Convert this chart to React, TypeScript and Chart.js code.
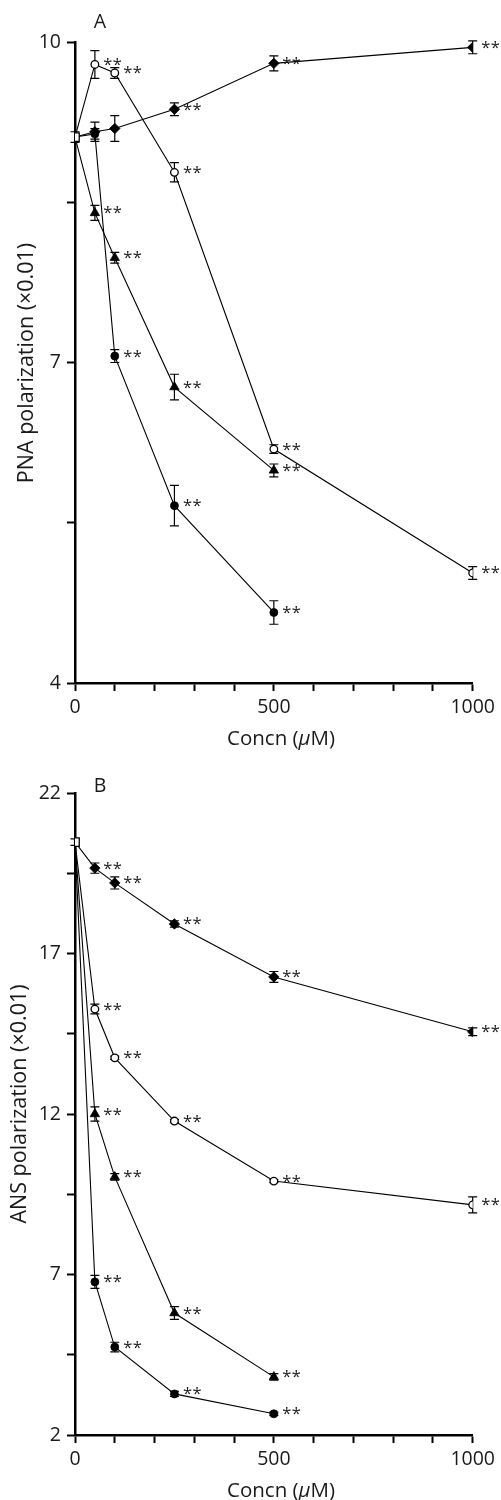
import React, { useEffect, useRef } from "react";
import { Chart, registerables } from "chart.js";

Chart.register(...registerables);

// ---------- data ----------
const CONC = [0, 50, 100, 250, 500, 1000];

// Panel A: PNA polarization (×0.01)
const A_CONTROL = 9.11;
const A_CONTROL_ERR = 0.05;
const A_OPEN_CIRCLE = [9.79, 9.71, 8.78, 6.19, 5.03];
const A_OPEN_CIRCLE_ERR = [0.13, 0.05, 0.09, 0.04, 0.06];
const A_OPEN_CIRCLE_SIG = [true, true, true, true, true];
const A_DIAMOND = [9.16, 9.19, 9.37, 9.8, 9.95];
const A_DIAMOND_ERR = [0.09, 0.12, 0.06, 0.07, 0.06];
const A_DIAMOND_SIG = [false, false, true, true, true];
const A_TRIANGLE = [8.4, 7.98, 6.77, 5.99];
const A_TRIANGLE_ERR = [0.07, 0.05, 0.12, 0.06];
const A_TRIANGLE_SIG = [true, true, true, true];
const A_CIRCLE = [9.14, 7.06, 5.66, 4.66];
const A_CIRCLE_ERR = [0.05, 0.06, 0.19, 0.11];
const A_CIRCLE_SIG = [false, true, true, true];
const A_Y_TICKS = [4, 7, 10];

// Panel B: ANS polarization (×0.01)
const B_CONTROL = 20.47;
const B_CONTROL_ERR = 0.1;
const B_DIAMOND = [19.66, 19.2, 17.92, 16.27, 14.56];
const B_DIAMOND_ERR = [0.16, 0.19, 0.1, 0.17, 0.12];
const B_DIAMOND_SIG = [true, true, true, true, true];
const B_OPEN_CIRCLE = [15.27, 13.75, 11.78, 9.91, 9.17];
const B_OPEN_CIRCLE_ERR = [0.15, 0.05, 0.05, 0.05, 0.25];
const B_OPEN_CIRCLE_SIG = [true, true, true, true, true];
const B_TRIANGLE = [12.0, 10.04, 5.8, 3.81];
const B_TRIANGLE_ERR = [0.22, 0.1, 0.2, 0.1];
const B_TRIANGLE_SIG = [true, true, true, true];
const B_CIRCLE = [6.77, 4.74, 3.28, 2.66];
const B_CIRCLE_ERR = [0.2, 0.15, 0.08, 0.05];
const B_CIRCLE_SIG = [true, true, true, true];
const B_Y_TICKS = [2, 7, 12, 17, 22];

const X_TICK_LABELS = [0, 500, 1000];
const SIG_MARK = "**";

// ---------- styling ----------
const FONT = '"Open Sans", "Noto Sans", sans-serif';
const INK = "#1a1a1a";

type Marker = "circle" | "openCircle" | "rectRot" | "triangle";

function seriesDataset(control: number, values: number[], errs: number[], sig: boolean[], marker: Marker) {
  const data = [{ x: CONC[0], y: control }, ...values.map((v, i) => ({ x: CONC[i + 1], y: v }))];
  const open = marker === "openCircle";
  const style = marker === "openCircle" ? "circle" : marker;
  const radius = marker === "circle" ? 4 : marker === "openCircle" ? 3.8 : marker === "rectRot" ? 5.2 : 5.4;
  return {
    data,
    errs: [0, ...errs],
    sig: [false, ...sig],
    showLine: true,
    borderColor: "#000",
    borderWidth: 1.1,
    pointStyle: style,
    pointRadius: (c: any) => (c.dataIndex === 0 ? 0 : radius),
    pointBackgroundColor: open ? "#fff" : "#000",
    pointBorderColor: "#000",
    pointBorderWidth: open ? 1.3 : 0.8,
    order: 1,
  };
}

function controlDataset(control: number, err: number) {
  return {
    data: [{ x: 0, y: control }],
    errs: [err],
    sig: [false],
    showLine: false,
    pointStyle: "rect",
    pointRadius: 6,
    pointBackgroundColor: "#fff",
    pointBorderColor: "#000",
    pointBorderWidth: 1.3,
    order: -1,
  };
}

const annotPlugin = {
  id: "annot",
  beforeDatasetsDraw(chart: any) {
    const { ctx } = chart;
    const xs = chart.scales.x;
    const ys = chart.scales.y;
    ctx.save();
    ctx.strokeStyle = "#000";
    ctx.lineWidth = 1.2;
    chart.data.datasets.forEach((ds: any) => {
      if (!ds.errs) return;
      ds.data.forEach((p: any, i: number) => {
        const e = ds.errs[i];
        if (!e) return;
        const px = xs.getPixelForValue(p.x);
        const y1 = ys.getPixelForValue(p.y + e);
        const y2 = ys.getPixelForValue(p.y - e);
        ctx.beginPath();
        ctx.moveTo(px, y1);
        ctx.lineTo(px, y2);
        ctx.moveTo(px - 4.5, y1);
        ctx.lineTo(px + 4.5, y1);
        ctx.moveTo(px - 4.5, y2);
        ctx.lineTo(px + 4.5, y2);
        ctx.stroke();
      });
    });
    ctx.restore();
  },
  afterDatasetsDraw(chart: any) {
    const { ctx } = chart;
    const xs = chart.scales.x;
    const ys = chart.scales.y;
    ctx.save();
    ctx.fillStyle = INK;
    ctx.font = `16.5px ${FONT}`;
    ctx.textAlign = "center";
    ctx.textBaseline = "alphabetic";
    chart.data.datasets.forEach((ds: any) => {
      ds.data.forEach((p: any, i: number) => {
        if (!ds.sig || !ds.sig[i]) return;
        const px = xs.getPixelForValue(p.x);
        const py = ys.getPixelForValue(p.y);
        // "**" drawn with the wider spacing used in the figure
        SIG_MARK.split("").forEach((ch, k) => ctx.fillText(ch, px + 13 + k * 9.5, py + 5.5));
      });
    });
    ctx.restore();
  },
  afterDraw(chart: any, _args: any, opts: any) {
    const { ctx } = chart;
    ctx.save();
    ctx.fillStyle = INK;
    ctx.font = `19.5px ${FONT}`;
    ctx.textAlign = "center";
    ctx.textBaseline = "alphabetic";
    ctx.fillText(opts.letter, opts.letterX, opts.letterY);
    ctx.save();
    ctx.font = `21.5px ${FONT}`;
    ctx.translate(opts.yTitleX, opts.yTitleY);
    ctx.rotate(-Math.PI / 2);
    ctx.textAlign = "center";
    ctx.fillText(opts.yTitle, 0, 0);
    ctx.restore();
    const parts: [string, string][] = [
      ["Concn (", `20.5px ${FONT}`],
      ["\u03bc", `italic 20.5px ${FONT}`],
      ["M)", `20.5px ${FONT}`],
    ];
    let total = 0;
    const widths = parts.map(([t, f]) => {
      ctx.font = f;
      const w = ctx.measureText(t).width;
      total += w;
      return w;
    });
    let cx = opts.xTitleX - total / 2;
    ctx.textAlign = "left";
    parts.forEach(([t, f], i) => {
      ctx.font = f;
      ctx.fillText(t, cx, opts.xTitleY);
      cx += widths[i];
    });
    ctx.restore();
  },
};

function makeConfig(p: {
  datasets: any[];
  yMin: number;
  yMax: number;
  yStep: number;
  yLabels: number[];
  height: number;
  top: number;
  bottom: number;
  annot: any;
}) {
  return {
    type: "scatter" as const,
    data: { datasets: p.datasets },
    plugins: [annotPlugin],
    options: {
      animation: false,
      responsive: false,
      devicePixelRatio: 1,
      layout: { padding: { top: p.top, right: 28.3, bottom: 0, left: 0 } },
      plugins: { legend: { display: false }, tooltip: { enabled: false }, annot: p.annot },
      scales: {
        x: {
          type: "linear",
          min: 0,
          max: 1000,
          afterFit: (s: any) => {
            s.height = p.height - p.bottom;
          },
          border: { display: true, color: "#000", width: 2.5 },
          grid: { display: true, drawOnChartArea: false, drawTicks: true, tickLength: 8, tickWidth: 2, tickColor: "#000" },
          ticks: {
            stepSize: 100,
            autoSkip: false,
            maxRotation: 0,
            padding: 5,
            color: INK,
            font: { family: FONT, size: 19.5 },
            callback: (v: number) => (X_TICK_LABELS.includes(v) ? String(v) : ""),
          },
        },
        y: {
          type: "linear",
          min: p.yMin,
          max: p.yMax,
          afterFit: (s: any) => {
            s.width = 75;
          },
          border: { display: true, color: "#000", width: 2.5 },
          grid: { display: true, drawOnChartArea: false, drawTicks: true, tickLength: 8, tickWidth: 2, tickColor: "#000" },
          ticks: {
            stepSize: p.yStep,
            autoSkip: false,
            padding: 6,
            color: INK,
            font: { family: FONT, size: 19.5 },
            callback: (v: number) => (p.yLabels.some((l) => Math.abs(l - v) < 1e-6) ? String(v) : ""),
          },
        },
      },
    },
  };
}

function Panel({ config, height }: { config: () => any; height: number }) {
  const ref = useRef<HTMLCanvasElement | null>(null);
  useEffect(() => {
    if (!ref.current) return;
    const chart = new Chart(ref.current, config() as any);
    return () => chart.destroy();
  }, []);
  return <canvas ref={ref} width={501} height={height} style={{ display: "block", width: 501, height }} />;
}

const H_A = 760;
const H_B = 740;

const configA = () =>
  makeConfig({
    datasets: [
      controlDataset(A_CONTROL, A_CONTROL_ERR),
      seriesDataset(A_CONTROL, A_OPEN_CIRCLE, A_OPEN_CIRCLE_ERR, A_OPEN_CIRCLE_SIG, "openCircle"),
      seriesDataset(A_CONTROL, A_DIAMOND, A_DIAMOND_ERR, A_DIAMOND_SIG, "rectRot"),
      seriesDataset(A_CONTROL, A_TRIANGLE, A_TRIANGLE_ERR, A_TRIANGLE_SIG, "triangle"),
      seriesDataset(A_CONTROL, A_CIRCLE, A_CIRCLE_ERR, A_CIRCLE_SIG, "circle"),
    ],
    yMin: 4,
    yMax: 10,
    yStep: 1.5,
    yLabels: A_Y_TICKS,
    height: H_A,
    top: 42,
    bottom: 683,
    annot: {
      letter: "A",
      letterX: 100,
      letterY: 28,
      yTitle: "PNA polarization (\u00d70.01)",
      yTitleX: 33,
      yTitleY: 363,
      xTitleX: 281,
      xTitleY: 745,
    },
  });

const configB = () =>
  makeConfig({
    datasets: [
      controlDataset(B_CONTROL, B_CONTROL_ERR),
      seriesDataset(B_CONTROL, B_DIAMOND, B_DIAMOND_ERR, B_DIAMOND_SIG, "rectRot"),
      seriesDataset(B_CONTROL, B_OPEN_CIRCLE, B_OPEN_CIRCLE_ERR, B_OPEN_CIRCLE_SIG, "openCircle"),
      seriesDataset(B_CONTROL, B_TRIANGLE, B_TRIANGLE_ERR, B_TRIANGLE_SIG, "triangle"),
      seriesDataset(B_CONTROL, B_CIRCLE, B_CIRCLE_ERR, B_CIRCLE_SIG, "circle"),
    ],
    yMin: 2,
    yMax: 22,
    yStep: 2.5,
    yLabels: B_Y_TICKS,
    height: H_B,
    top: 33,
    bottom: 675,
    annot: {
      letter: "B",
      letterX: 100,
      letterY: 32,
      yTitle: "ANS polarization (\u00d70.01)",
      yTitleX: 26,
      yTitleY: 344,
      xTitleX: 281,
      xTitleY: 737,
    },
  });

export default function App() {
  return (
    <div style={{ position: "absolute", left: 0, top: 0, width: 501, height: 1500, background: "#fff" }}>
      <Panel config={configA} height={H_A} />
      <Panel config={configB} height={H_B} />
    </div>
  );
}
